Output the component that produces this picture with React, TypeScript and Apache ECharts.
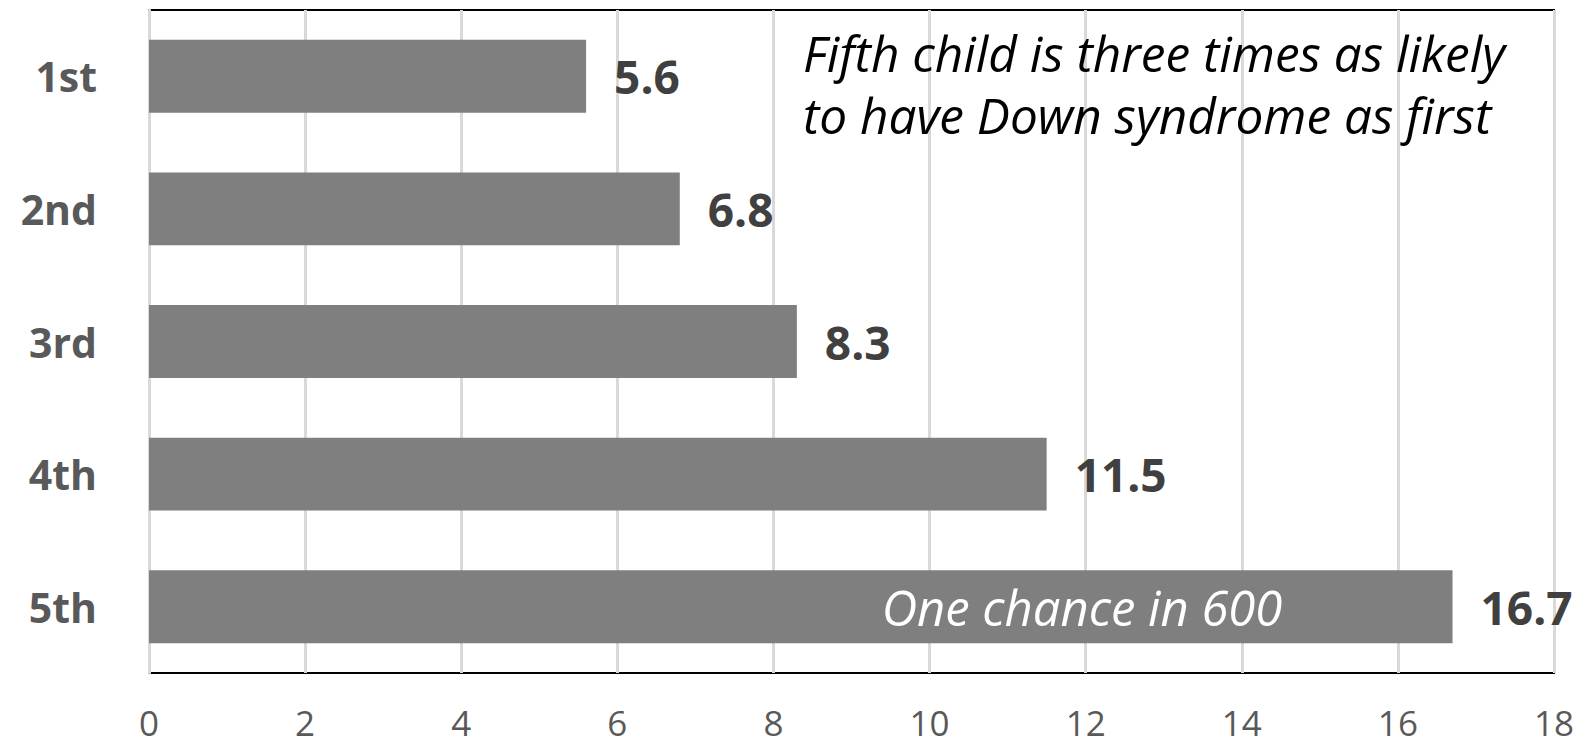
import { useEffect, useRef } from "react";
import * as echarts from "echarts";

const categories = ["1st", "2nd", "3rd", "4th", "5th"];
const values = [5.6, 6.8, 8.3, 11.5, 16.7];
const xMin = 0;
const xMax = 18;
const xStep = 2;
const noteLines = ["Fifth child is three times as likely", "to have Down syndrome as first"];
const barNote = "One chance in 600";

const FONT = "'Open Sans', 'Noto Sans', sans-serif";

export default function App() {
  const ref = useRef<HTMLDivElement>(null);
  useEffect(() => {
    if (!ref.current) return;
    const chart = echarts.init(ref.current, null, { renderer: "svg" });
    chart.setOption({
      animation: false,
      backgroundColor: "#ffffff",
      grid: {
        left: 149,
        top: 10,
        width: 1405,
        height: 663,
        show: true,
        borderColor: "#000000",
        borderWidth: 2,
        backgroundColor: "transparent",
      },
      xAxis: {
        type: "value",
        min: xMin,
        max: xMax,
        interval: xStep,
        axisLine: { show: false },
        axisTick: { show: false },
        splitLine: { show: true, lineStyle: { color: "#d9d9d9", width: 3 } },
        axisLabel: {
          margin: 32,
          color: "#595959",
          fontFamily: FONT,
          fontSize: 35,
          lineHeight: 35,
        },
      },
      yAxis: {
        type: "category",
        data: categories,
        inverse: true,
        axisLine: { show: true, lineStyle: { color: "#d9d9d9", width: 3 } },
        axisTick: { show: false },
        axisLabel: {
          margin: 52,
          color: "#595959",
          fontFamily: FONT,
          fontSize: 41,
          fontWeight: "bold",
        },
      },
      series: [
        {
          type: "bar",
          data: values,
          barCategoryGap: "45%",
          itemStyle: { color: "#7f7f7f" },
          label: {
            show: true,
            position: "right",
            distance: 28,
            color: "#404040",
            fontFamily: FONT,
            fontSize: 46,
            fontWeight: "bold",
          },
          z: 3,
        },
      ],
      graphic: [
        {
          type: "text",
          z: 100,
          style: {
            text: noteLines.join("\n"),
            x: 803,
            y: 22,
            fill: "#000000",
            fontFamily: FONT,
            fontSize: 49.5,
            fontStyle: "italic",
            lineHeight: 62,
            textAlign: "left",
            textVerticalAlign: "top",
          },
        },
        {
          type: "text",
          z: 100,
          style: {
            text: barNote,
            x: 1082,
            y: 607,
            fill: "#ffffff",
            fontFamily: FONT,
            fontSize: 49,
            fontStyle: "italic",
            textAlign: "center",
            textVerticalAlign: "middle",
          },
        },
      ],
    });
    return () => chart.dispose();
  }, []);
  return (
    <div
      ref={ref}
      style={{ position: "fixed", left: 0, top: 0, width: 1587, height: 746 }}
    />
  );
}
